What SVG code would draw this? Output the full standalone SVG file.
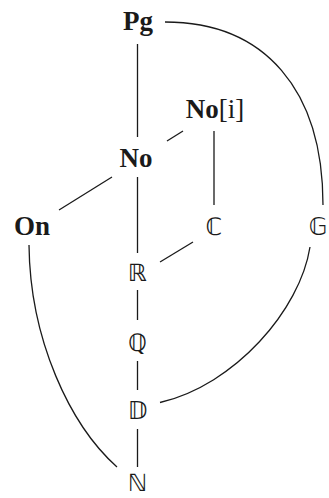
<svg xmlns="http://www.w3.org/2000/svg" width="329" height="498" viewBox="0 0 329 498">
<style>
.bg{fill:#ffffff}
.lbl{font-family:"Liberation Serif","Times New Roman",serif;font-weight:bold;font-size:27px;fill:#1a1a1a;text-anchor:middle}
.reg{font-weight:normal}
.ds{font-family:"DejaVu Sans",sans-serif;font-size:24px;fill:#1a1a1a;text-anchor:middle}
.edge{stroke:#1a1a1a;stroke-width:1.3;fill:none}
</style>
<rect class="bg" x="0" y="0" width="329" height="498"/>
<g id="connectors">
<line class="edge" x1="137.5" y1="44" x2="137.5" y2="137"/>
<line class="edge" x1="167" y1="141" x2="183" y2="131"/>
<line class="edge" x1="112" y1="177" x2="59" y2="210"/>
<line class="edge" x1="137.5" y1="177" x2="137.5" y2="253"/>
<line class="edge" x1="214" y1="131" x2="214" y2="205"/>
<line class="edge" x1="193" y1="242" x2="160" y2="262"/>
<line class="edge" x1="137.5" y1="290" x2="137.5" y2="320"/>
<line class="edge" x1="137.5" y1="361" x2="137.5" y2="390"/>
<line class="edge" x1="137.5" y1="429" x2="137.5" y2="467"/>
<path class="edge" d="M165,22 C265,22 323,90 323,205"/>
<path class="edge" d="M310,247 C300,310 235,385 160,402.5"/>
<path class="edge" d="M29,245 C30,340 70,425 117,467"/>
</g>
<g id="Pg"><text class="lbl" x="138" y="30">Pg</text></g>
<g id="No"><text class="lbl" x="136" y="167">No</text></g>
<g id="NoI"><text class="lbl" x="215" y="118">No<tspan class="reg">[i]</tspan></text></g>
<g id="On"><text class="lbl" x="32" y="235">On</text></g>
<g id="C"><text class="ds" x="214" y="235">ℂ</text></g>
<g id="G"><text class="ds" x="318" y="235">𝔾</text></g>
<g id="R"><text class="ds" x="137.5" y="281">ℝ</text></g>
<g id="Q"><text class="ds" x="137.5" y="351">ℚ</text></g>
<g id="D"><text class="ds" x="137.5" y="419">𝔻</text></g>
<g id="N"><text class="ds" x="137.5" y="491">ℕ</text></g>
</svg>
